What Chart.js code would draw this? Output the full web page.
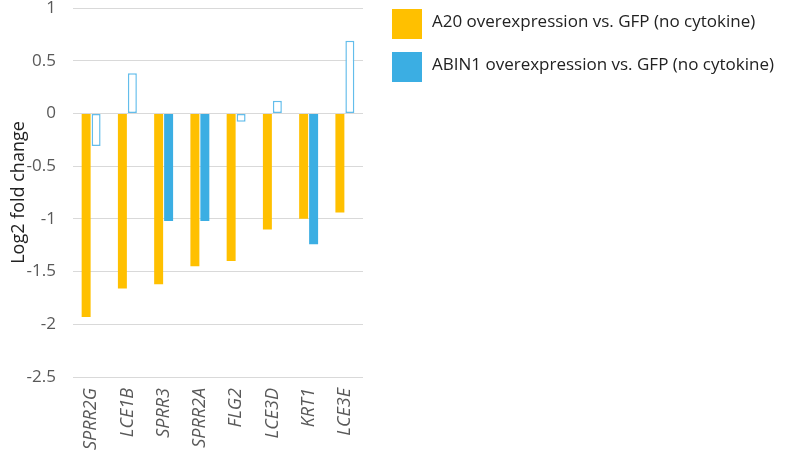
<!DOCTYPE html>
<html>
<head>
<meta charset="utf-8">
<script src="https://cdn.jsdelivr.net/npm/chart.js@4"></script>
<style>
  html, body { margin: 0; padding: 0; background: #fff; }
  #wrap { width: 800px; height: 454px; }
</style>
</head>
<body>
<div id="wrap"><canvas id="chart"></canvas></div>
<script>
// genes along the x axis
const genes = ['SPRR2G', 'LCE1B', 'SPRR3', 'SPRR2A', 'FLG2', 'LCE3D', 'KRT1', 'LCE3E'];

// log2 fold change
const a20Values   = [-1.93, -1.66, -1.62, -1.45, -1.40, -1.10, -1.00, -0.94];
const abin1Values = [-0.31,  0.38, -1.02, -1.02, -0.08,  0.12, -1.24,  0.69];

// which ABIN1 bars are drawn solid (the rest are hollow outlines)
const abin1Solid = [false, false, true, true, false, false, true, false];

const seriesNames = [
  'A20 overexpression vs. GFP (no cytokine)',
  'ABIN1 overexpression vs. GFP (no cytokine)',
];

const ORANGE = '#FFC000';
const BLUE = '#3BAEE3';
const BLUE_LINE = '#63BDEB';
const FONT = '"Open Sans", "Noto Sans", sans-serif';

// legend drawn by hand in the right-hand margin (the built-in one truncates long labels)
const sideLegend = {
  id: 'sideLegend',
  afterDraw(chart) {
    const ctx = chart.ctx;
    const colors = [ORANGE, BLUE];
    ctx.save();
    ctx.font = '17px ' + FONT;
    ctx.textBaseline = 'middle';
    chart.data.datasets.forEach((ds, i) => {
      const top = 9 + i * 43;
      ctx.fillStyle = colors[i];
      ctx.fillRect(392, top, 30, 30);
      ctx.fillStyle = '#222';
      ctx.fillText(ds.label, 432, top + 13);
    });
    ctx.restore();
  },
};

new Chart(document.getElementById('chart'), {
  type: 'bar',
  data: {
    labels: genes,
    datasets: [
      {
        label: seriesNames[0],
        data: a20Values,
        backgroundColor: ORANGE,
        borderWidth: 0,
        categoryPercentage: 0.55,
        barPercentage: 0.9,
      },
      {
        label: seriesNames[1],
        data: abin1Values,
        backgroundColor: abin1Solid.map(s => s ? BLUE : '#ffffff'),
        borderColor: abin1Solid.map(s => s ? BLUE : BLUE_LINE),
        borderWidth: abin1Solid.map(s => s ? 0 : 1.5),
        borderSkipped: false,
        categoryPercentage: 0.55,
        barPercentage: 0.9,
      },
    ],
  },
  options: {
    responsive: true,
    maintainAspectRatio: false,
    animation: false,
    layout: { padding: { top: 0, right: 437, left: 0, bottom: 0 } },
    plugins: {
      tooltip: { enabled: false },
      legend: { display: false },
    },
    scales: {
      x: {
        grid: { display: false },
        border: { display: false },
        afterFit: (scale) => {
          // labels run off the bottom edge as in the original
          scale.height = 77;
          scale.paddingLeft = 0;
          scale.paddingRight = 0;
        },
        ticks: {
          minRotation: 90,
          maxRotation: 90,
          padding: 3,
          color: '#595959',
          font: { family: FONT, size: 18, style: 'italic' },
        },
      },
      y: {
        min: -2.5,
        max: 1,
        border: { display: false },
        grid: { color: '#d9d9d9', drawTicks: false },
        afterFit: (scale) => {
          scale.width = 73;
          scale.paddingTop = 8;
          scale.paddingBottom = 0;
        },
        ticks: {
          stepSize: 0.5,
          padding: 17,
          color: '#595959',
          font: { family: FONT, size: 17 },
          callback: (v) => String(v),
        },
        title: {
          display: true,
          text: 'Log2 fold change',
          color: '#222',
          font: { family: FONT, size: 18 },
          padding: { top: 8, bottom: 0 },
        },
      },
    },
  },
  plugins: [sideLegend],
});
</script>
</body>
</html>
